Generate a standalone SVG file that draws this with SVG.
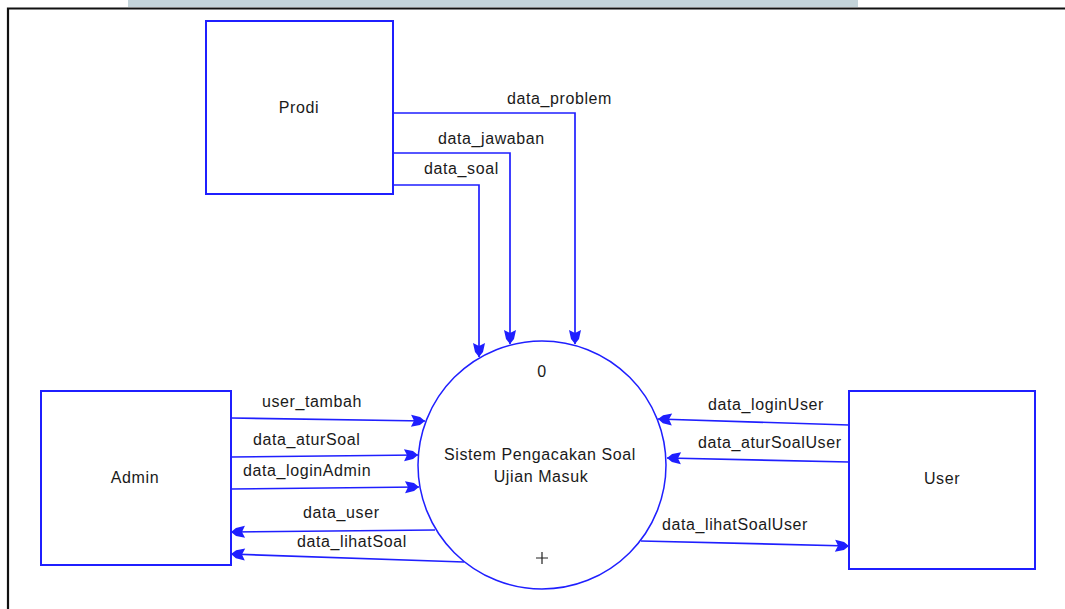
<svg xmlns="http://www.w3.org/2000/svg" width="1065" height="609" viewBox="0 0 1065 609">
  <style>
    .box { fill: #ffffff; stroke: #1f1fff; stroke-width: 2; }
    .proc { fill: #ffffff; stroke: #1f1fff; stroke-width: 1.5; }
    .flow { fill: none; stroke: #1f1fff; stroke-width: 1.7; marker-end: url(#head); }
    .lbl { font-family: "Liberation Sans", Arial, sans-serif; font-size: 16px; letter-spacing: 0.6px; fill: #1a1a1a; }
    .mid { text-anchor: middle; }
  </style>
  <defs>
    <marker id="head" markerUnits="userSpaceOnUse" viewBox="-15 -7 16 14" refX="0" refY="0" markerWidth="16" markerHeight="14" orient="auto">
      <path d="M0,0 L-5,-4 L-14,-6 L-11,0 L-14,6 L-5,4 Z" fill="#1f1fff"/>
    </marker>
  </defs>

  <rect width="1065" height="609" fill="#ffffff"/>
  <!-- window strip and frame -->
  <rect x="128" y="0" width="730" height="7" fill="#c4d4da"/>
  <path d="M8,609 V8.5 H1065" fill="none" stroke="#111111" stroke-width="2.2"/>

  <g id="connectors">
    <!-- Prodi to process -->
    <path class="flow" d="M393,113 H575 V344"/>
    <path class="flow" d="M393,153 H510 V344"/>
    <path class="flow" d="M393,185 H479 V357"/>
    <!-- Admin to process -->
    <path class="flow" d="M231,418 L425,421"/>
    <path class="flow" d="M231,457 L418,455"/>
    <path class="flow" d="M231,489 L419,487"/>
    <!-- process to Admin -->
    <path class="flow" d="M435,530 L231,532"/>
    <path class="flow" d="M464,562 L231,554"/>
    <!-- User to process -->
    <path class="flow" d="M849,425 L658,419"/>
    <path class="flow" d="M849,462 L667,458"/>
    <!-- process to User -->
    <path class="flow" d="M641,541 L849,546"/>

    <text class="lbl" x="507" y="104">data_problem</text>
    <text class="lbl" x="438" y="144">data_jawaban</text>
    <text class="lbl" x="424" y="174">data_soal</text>
    <text class="lbl" x="262" y="407">user_tambah</text>
    <text class="lbl" x="253" y="445">data_aturSoal</text>
    <text class="lbl" x="243" y="476">data_loginAdmin</text>
    <text class="lbl" x="303" y="518">data_user</text>
    <text class="lbl" x="297" y="547">data_lihatSoal</text>
    <text class="lbl" x="708" y="410">data_loginUser</text>
    <text class="lbl" x="698" y="448">data_aturSoalUser</text>
    <text class="lbl" x="662" y="530">data_lihatSoalUser</text>
  </g>

  <g id="prodi">
    <rect class="box" x="206" y="21" width="187" height="173"/>
    <text class="lbl mid" x="299" y="113">Prodi</text>
  </g>

  <g id="admin">
    <rect class="box" x="41" y="391" width="190" height="174"/>
    <text class="lbl mid" x="135" y="483">Admin</text>
  </g>

  <g id="user">
    <rect class="box" x="849" y="391" width="186" height="178"/>
    <text class="lbl mid" x="942" y="484">User</text>
  </g>

  <g id="process-0">
    <circle class="proc" cx="542" cy="465" r="124"/>
    <text class="lbl mid" x="542" y="377">0</text>
    <text class="lbl mid" x="540" y="460">Sistem Pengacakan Soal</text>
    <text class="lbl mid" x="541" y="482">Ujian Masuk</text>
    <path d="M536,558 H548 M542,552 V564" stroke="#222222" stroke-width="1.2"/>
  </g>
</svg>
